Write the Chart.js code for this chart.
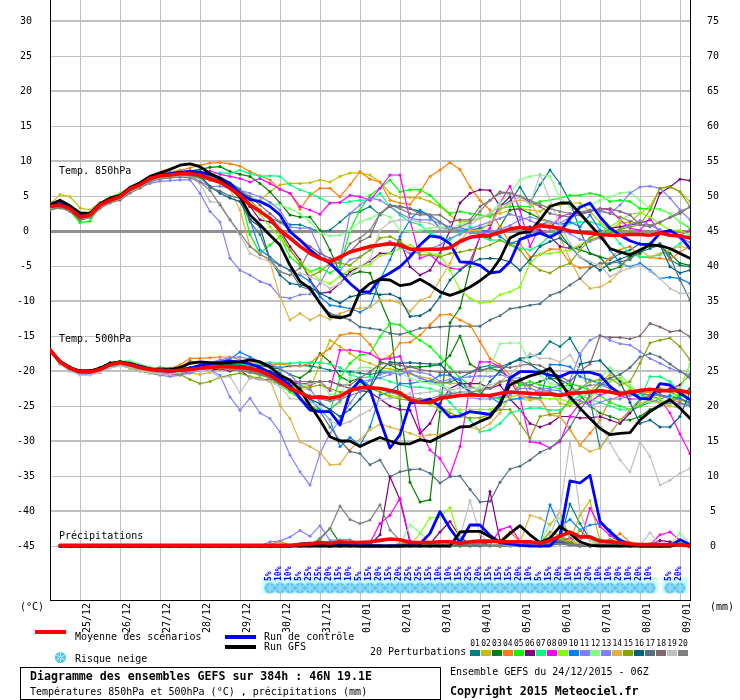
<!DOCTYPE html>
<html><head><meta charset="utf-8">
<style>html,body{margin:0;padding:0;background:#fff}canvas{display:block}</style>
<script src="https://cdn.jsdelivr.net/npm/chart.js@4"></script>
</head><body><canvas id="c" width="740" height="700"></canvas>
<script>
const dayLabels=["25/12","26/12","27/12","28/12","29/12","30/12","31/12","01/01","02/01","03/01","04/01","05/01","06/01","07/01","08/01","09/01"];
const dayIndex=[3,7,11,15,19,23,27,31,35,39,43,47,51,55,59,63];
const leftTicks=[30,25,20,15,10,5,0,-5,-10,-15,-20,-25,-30,-35,-40,-45];
const rightTicks=[75,70,65,60,55,50,45,40,35,30,25,20,15,10,5,0];
const steps=Array.from({length:65},(_,i)=>i);
const colors=["#008080","#c0c000","#008000","#ff8000","#00ff00","#800080","#00ff80","#ff00ff","#80ff00","#0080ff","#8080ff","#80ff80","#8080ff","#e0b040","#80a800","#006080","#507080","#806870","#c0c0c0","#808080"];
const snowIndex=[22,23,24,25,26,27,28,29,30,31,32,33,34,35,36,37,38,39,40,41,42,43,44,45,46,47,48,49,50,51,52,53,54,55,56,57,58,59,60,62,63];
const snowPct=[5,10,10,5,25,25,20,15,10,5,15,20,15,20,25,25,15,10,10,15,25,20,15,15,15,20,10,5,15,20,10,15,20,10,10,20,10,20,10,5,20];

const t850mean=[3.5,3.7,3.2,2,2.3,3.7,4.4,4.9,6,6.6,7.5,7.9,8,8.2,8.2,8,7.4,
7,6.1,5.1,3.7,2.8,1.8,.1,-1,-2.2,-3.2,-3.9,-4.4,-3.7,-3,-2.6,-2.2,
-2,-1.8,-2,-2.6,-2.6,-2.6,-2.6,-2.4,-1.5,-.9,-.7,-.6,-.2,.3,.5,.2,.8,.6,.4,0,-.2,-.3,-.5,-.6,-.6,-.5,-.5,-.6,-.3,-.6,-.7,-1];
const t850control=[3.6,3.9,3.4,2.2,2.5,3.8,4.5,5,6.1,6.8,7.6,8,8.2,8.4,8.5,8.4,8.1,
7.6,6.8,5.4,4.5,4.2,3.5,2.3,-.1,-1.3,-2.7,-3.8,-4.6,-6,-7.5,-8.7,-8.7,
-6.8,-6,-5.1,-3.7,-2,-.7,-.9,-1.8,-4.4,-4.5,-4.9,-6,-5.8,-4.4,-1.2,-.7,-.3,-.9,-.1,1.8,3.4,4,2,.4,-.6,-1.4,-1.9,-1.9,-.3,.1,-.8,-2.5];
const t850gfs=[3.8,4.4,3.6,2.6,2.5,3.9,4.7,5.1,6.2,6.9,7.8,8.3,8.8,9.4,9.6,9.2,8.2,
7.5,6.2,4.9,2.3,.9,-.6,-2,-4.9,-7.2,-8.2,-10.3,-12.2,-12.4,-12,-8.7,-7.5,
-6.9,-7,-7.8,-7.6,-6.9,-7.7,-8.7,-9.2,-8.7,-8,-7.1,-6,-4,-1,-.3,-.1,1.6,3.5,4,4,2.5,.9,-.7,-2.5,-3,-3.4,-2.7,-2,-2.1,-2.5,-3.2,-3.9];
const t850p01=[3.4,3.8,3.2,2.2,2.4,3.6,4.5,5,6,6.8,7.6,8,8.1,8.3,8.6,8.2,7.8,
7.5,6.9,6,3.5,3,1.8,1.3,.9,.9,.4,-.1,.1,1.3,2.5,2.8,3.5,
2.3,3.7,3.5,3.2,2.8,2.3,1.3,.4,.1,.1,.4,.9,3.5,4.2,6.3,4,6.6,8.7,6.8,4.2,.1,-3.2,-3.7,-4.1,-3.2,-2.7,-1.8,-2.2,-1.8,-4.1,-4.9,-5.1];
const t850p02=[3.9,5.2,4.9,3.3,3,4.1,4.7,5,5.7,6.4,7.2,7.6,7.7,7.7,7.7,7.6,7.3,
6.8,6.1,5.6,4.7,4.4,5.6,6.6,6.8,6.8,6.9,7.3,7,7.8,8.3,8.3,8,
7,5.4,4.8,4.8,4.7,4.2,3.5,2.3,1.3,1.4,1.8,2.3,2.5,3,3.2,3,2.8,3.7,3.7,4,4,2.8,1.3,.1,1.1,1.3,2.5,3.5,6.1,6.4,5.6,4.2];
const t850p03=[3.3,3.6,3,1.5,2,3.5,4.3,5,6,6.5,7.3,7.9,8,8.2,8.6,8.8,9.1,
9.2,8.5,8.1,7.8,6.8,5.6,4,2.3,2,2,.1,-2.7,-6,-6.3,-5.8,-6,
-9.9,-13.2,-25,-35.9,-38.7,-38.4,-25.8,-13.1,-11,-5.1,-.8,-1,.6,3,3.2,2.5,1.8,1.3,-.3,-2.2,-2.7,-3.2,-3.7,-5.6,-5.1,-3.7,-3.2,-1.8,-2.2,-3.2,-4.6,-4.9];
const t850p04=[3.6,3.9,3.3,2.2,2.5,3.8,4.6,5.1,6.2,6.9,7.7,8.2,8.4,8.7,9,9.4,9.7,
9.8,9.6,9.3,8.5,7.9,7.3,5.9,5.4,3.1,5.1,6.1,6.1,4.9,6.6,8.5,7.4,
7,4.4,4,3.8,5.6,7.8,8.7,9.8,8.8,6.3,4.4,3,.6,-1.8,-1.8,-3.7,-3.4,-2.6,-2.6,-4.6,-5.3,-5.1,-5,-3.9,-2.7,-2.2,-3.7,-3.8,-3.9,-4.1,-3,-2.2];
const t850p05=[3,3.4,2.8,1.2,1.4,3.6,4.8,5.2,6.3,6.6,7.5,8,8,8.2,8.4,8.2,7.6,
7.2,6.2,5.2,-.5,-3.2,-2,-.8,-3.7,-4.9,-5.8,-5.3,-6,-5.1,.1,3,5.1,
6.1,7.3,5.6,5.9,5.9,5.1,3.7,2.5,2.8,2.5,2.3,2,3.2,3.5,3.5,3.5,4.2,4.4,4.7,5.1,5.1,5.4,5.1,4.2,4.4,4.2,3.2,3.2,3.1,2.5,1.3,.4];
const t850p06=[3.5,3.8,3.2,2,2.3,3.6,4.3,4.8,5.9,6.5,7.4,7.9,7.9,8.1,8.3,8,7.8,
7.5,6.6,5.4,3.5,1.6,1.3,.1,-2.2,-4.1,-7,-8.9,-8.7,-7.5,-5.8,-5.1,-4.3,
-3.2,-3.2,-1.3,-5.1,-6.3,-5.6,-3.2,.1,4,5.4,5.9,5.8,3.5,4.9,.6,.6,.1,-.8,-2.2,-2.5,-2.2,-1,-.1,.4,.6,.9,1.1,1.6,5.4,6.3,7.4,7.2];
const t850p07=[3.4,3.8,3.2,1.8,2.2,3.8,4.7,5,6.1,6.8,7.6,8.1,8,8.4,8.4,8.1,8.2,
8.3,8.2,8.7,8.2,7.8,7.9,7.8,6.6,5.9,5.4,4.7,4,4,4.2,4.4,4.4,
5.4,3.5,2.3,1.3,.9,-.3,-.8,-1.3,-.3,.6,-.8,-1.3,-1.3,-1.8,-2.5,-2.7,-2,-.6,.1,1.1,1.3,1.3,.9,-.1,-1.8,-3.2,-3.7,-3.7,-3.4,-2.7,-1.8,-.6];
const t850p08=[3.5,3.9,3.3,2,2.4,3.7,4.5,5,6,6.7,7.5,8,8.1,8.3,8.3,8.2,8.6,
8.1,7.8,7.5,7,7.5,6.8,6,5.4,3.5,3,2.4,4,4.1,5.1,4.9,4.4,
6.1,8,8,1.6,-3.9,-3.4,-4.6,-5.3,-5.5,-4.4,-.8,.4,4,6.4,3,-2.2,.6,.4,2,2.5,2.5,2.8,3.2,3,1.6,.4,.1,1.8,-.3,-.1,-.6,.1];
const t850p09=[3.2,3.5,3.1,1.9,2.1,3.9,4.9,5.4,6.3,6.9,7.5,7.7,7.8,8,8.1,7.9,7.5,
7,6.3,5.2,3.9,2.4,.6,-1,-2.7,-4.4,-5.8,-7,-7.5,-6.5,-5.5,-5,-4.8,
-3.5,-3.2,-2.5,-2,-2.8,-3.2,-3.4,-5.6,-8.4,-9.6,-10.3,-10.1,-9.1,-8.7,-8,-4.6,-3.3,-3.2,-3,-2.7,-2,-1.1,-.3,.6,1.5,2.4,2.6,2,1,.1,.1,-.6];
const t850p10=[3.6,3.9,3.2,2.1,2.4,3.7,4.4,4.9,5.9,6.7,7.6,8,8.2,8.3,8.5,8.1,7.7,
7.2,6.5,5.6,1.6,-2.7,-3.7,-4.9,-5.6,-6.3,-7.2,-9.4,-10.6,-10.8,-11.1,-11.6,-10.8,
-7,-4.1,-.8,1.6,3,2,.4,.4,.4,.1,.1,-.1,-.8,-1.8,-1.3,-.3,.9,1.3,.9,1.3,.6,2.3,.1,-2.7,-4.6,-5.1,-4.6,-5.6,-6.8,-6.6,-6.8,-7.5];
const t850p11=[3.3,3.5,3,1.9,2.2,3.4,4.1,4.6,5.6,6.2,6.8,7.1,7.2,7.3,7.3,5.4,2.8,
1.3,-3.9,-5.6,-6.3,-7.2,-7.7,-9.4,-9.6,-9.1,-9,-7.5,-4.9,-5.6,-4.1,-3.7,-2.7,
-2,-1.5,-2.3,-3.2,-3,-2.5,-2,-1,-.5,.3,.8,1.3,1.8,2.4,2,1.5,.9,.5,.2,-.4,-1.2,-1.5,-1,-.3,.3,.9,1.5,.8,.2,-.5,-1,-1.6];
const t850p12=[3.7,4,3.5,2.4,2.7,3.9,4.8,5,6.2,6.9,7.8,8.2,8.2,8.5,8.5,8.3,7.9,
7.4,6.6,5.8,5,4.2,3.9,3.7,3.2,2.5,1.3,-.3,-.7,-.6,.1,1.3,1.8,
2.5,2,.1,-.1,.1,.4,.6,.4,.9,1.3,2,2.5,4,5.4,7.3,7.8,8,7.8,4.7,3.5,3.5,3.7,4.4,4.9,5.4,5.6,4.4,3.2,3,2.5,1.3,.6];
const t850p13=[3.6,3.7,3.1,2.1,2.4,3.5,4.2,4.7,5.8,6.4,7.2,7.6,7.6,7.9,7.9,7.1,6.3,
6.4,6.1,5.8,5.4,4.9,4.1,3,.6,.4,.4,-2.7,-4.9,-4.4,2.5,3.7,4.7,
4.4,3.5,2.5,1.8,1.6,1.6,1.1,.6,.1,-.3,-.4,-.2,.2,.8,1.6,2,1.6,1.3,1.1,2,2.5,3,2.8,2.5,3.7,5.4,6.3,6.4,6.1,4.7,3,1.6];
const t850p14=[3.4,3.7,3.1,1.8,2.1,3.5,4.4,4.9,6,6.6,7.6,8.1,8,8.3,8.2,7.8,7.3,
6.9,6,3,-2.2,-3.2,-4.4,-9.4,-12.7,-11.8,-12.7,-12,-12.6,-11.8,-11.3,-11,-10.9,
-9.9,-9.9,-10.3,-11.5,-9.9,-9.4,-7,-4.6,-1.3,.1,.1,1.1,3,4,4.4,4.2,1.8,1.1,-.8,-4.1,-6.8,-8.2,-8,-7.2,-5.8,-3.2,-2.7,-3.7,-3.2,-2.7,-2.2,-2.5];
const t850p15=[3.1,3.4,2.9,1.7,2,3.4,4.2,4.6,5.6,6.3,7.1,7.6,7.6,7.8,7.9,7.6,7.3,
6.9,6.3,5.4,4.4,3,1.6,-.3,-2.7,-4.6,-6.5,-5.8,-4.6,-4.6,-4.9,-3.7,-2.7,
-1,-.8,-1.5,-2.5,-3.4,-3.4,-3.7,-3.2,-3,-2.7,-2.5,-2,-1.3,-2,-2.7,-4.6,-5.6,-6,-5.1,-4.6,-2.7,-1.3,-.8,-.3,.2,.6,.9,3,6.1,6.3,5.6,3.5];
const t850p16=[3.5,3.8,3.2,1.9,2.3,3.6,4.4,4.8,5.9,6.6,7.3,7.9,8,8.1,8.2,7.9,6.4,
5.4,4.7,4.2,1.6,.6,-4.1,-6.3,-7.5,-7.7,-8,-8.9,-9.6,-10.3,-9.4,-9.1,-8.9,
-9.1,-9,-9.6,-12.2,-12.1,-11.3,-9.4,-7,-5.6,-4.6,-4,-3.9,-4,-4.4,-5.6,-4.1,-2.2,-1.5,-1,-2.2,-3.7,-4.6,-5.6,-4.6,-4,-3.5,-3,-2.5,-2,-5.1,-6,-5.6];
const t850p17=[3.4,3.6,3,1.7,2.1,3.5,4.3,4.7,5.8,6.5,7.3,7.8,7.9,8.1,8,7.7,6.2,
5.7,5,4.7,1.3,-.5,-4.1,-4.9,-5.6,-7.9,-8.4,-10.3,-11.8,-12.2,-12.7,-13.7,-13.9,
-14.1,-14.6,-14.8,-14.4,-13.9,-13.8,-13.7,-13.6,-13.6,-13.6,-13.6,-12.7,-12.1,-11.1,-10.9,-10.6,-10.4,-9.2,-8.7,-7.7,-6.8,-5.3,-4.6,-4.6,-4.4,-4.1,-2.7,-2,-2,-3.7,-7,-9.9];
const t850p18=[3.6,4,3.4,2.2,2.6,3.9,4.6,5.1,6.2,6.8,7.6,8.1,8.3,8.4,8.4,8.2,7.8,
7.4,6.8,5.8,4.9,3.7,2.5,1.3,.1,-1.3,-2.2,-3.2,-3.9,-4.1,-3,-1.5,-.8,
2.5,3.5,3.5,3.2,2.5,2.3,2.3,1.3,1.6,1.6,3.5,4.4,5.6,5.4,4.9,4.2,3.5,2.5,2.2,2,2.3,2.8,3.2,3.2,2.8,2.3,.9,.6,1.3,1.9,2.5,3.5];
const t850p19=[3.3,3.5,3,2,2.3,3.3,4,4.5,5.5,6.2,7,7.5,7.6,7.8,7.7,6.8,4.2,
4,1.6,-.6,-3.2,-3.9,-4.4,-5.8,-6.3,-6,-6.5,-7.2,-8.2,-7.5,-6.3,-5.1,-4.1,
.1,1.3,1.6,1.6,1.3,1.1,.4,.1,.4,.9,1.8,2.5,3.5,4,4.9,3.7,8.1,4.4,.9,-1.8,-3.7,-4.4,-4.9,-6.5,-5.8,-5.3,-4.9,-5.8,-6.8,-8.2,-8.9,-8.9];
const t850p20=[3,3.3,2.8,1.6,1.9,3.2,4,4.4,5.4,6.1,7,7.4,7.6,7.7,7.6,7,5.8,
3.7,1.6,-.3,-2.2,-3.4,-4,-5.8,-6.3,-5.3,-2.7,-3.7,-4.6,-4.1,-1.8,-1,.1,
2.5,3.7,3.2,2.5,2.3,2.3,1.3,.1,.6,1.2,2.8,4.4,5.4,5.4,5,4.4,3.8,3.2,2.8,2.5,2.7,3,3,2.5,2,1.4,1,.8,1.2,2,2.8,3.4];

const t500mean=[-17,-18.7,-19.6,-20.1,-20.1,-19.8,-19.1,-18.8,-19.1,-19.5,-19.8,-19.9,-20,-19.9,-19.8,-19.6,-19.5,
-19.4,-19.4,-19.5,-19.6,-20,-20.6,-21.5,-22.5,-23.1,-23.8,-23.7,-23.9,-23.6,-22.8,-22.4,-22.4,
-22.5,-22.8,-23.1,-24.1,-24.5,-24.5,-23.9,-23.7,-23.5,-23.4,-23.5,-23.5,-23.2,-23,-23.1,-23.2,-23.3,-23.3,-23.5,-23.2,-23.1,-23,-22.8,-23,-23.3,-23,-22.8,-22.6,-22.8,-22.8,-22.8,-23.1];
const t500control=[-17,-18.7,-19.6,-20,-20,-19.7,-19,-18.7,-18.9,-19.3,-19.7,-19.9,-20,-19.9,-19.6,-19.2,-18.9,
-18.8,-18.6,-18.7,-19,-19.5,-20.2,-21,-22,-23.9,-25.6,-25.8,-25.8,-27.7,-23,-21.3,-22.7,
-27,-31,-29.1,-24.6,-24.4,-24,-25.1,-26.6,-26.4,-25.8,-26,-26.2,-24.9,-21,-20.1,-20.1,-20.2,-20.6,-20.8,-20.2,-20.2,-20.2,-20.6,-22.2,-23.3,-23,-23.9,-24,-21.8,-22,-23.2,-24.1];
const t500gfs=[-17,-18.6,-19.5,-20,-20,-19.6,-18.9,-18.7,-19,-19.4,-19.7,-19.8,-19.8,-19.5,-18.9,-18.7,-18.8,
-18.9,-18.8,-18.7,-18.4,-18.7,-19.4,-20.6,-21.3,-22.7,-24.9,-27,-29.4,-30,-30,-30.8,-30.1,
-29.5,-30,-30.4,-30.4,-29.8,-30.1,-29.4,-28.7,-28,-27.9,-27.2,-26.6,-24.6,-22,-21.3,-20.7,-20.3,-19.6,-21.5,-23.7,-25.3,-26.8,-28.2,-29.1,-28.9,-28.8,-27,-25.8,-24.9,-24.1,-25.3,-26.8];
const t500p01=[-17,-18.8,-19.8,-20.1,-20,-19.6,-18.9,-18.6,-18.8,-19.1,-19.5,-19.5,-19.7,-19.6,-19.6,-19.2,-19,
-18.9,-19,-19,-19.1,-19.1,-19.3,-19.5,-19.3,-19.2,-19.3,-19.5,-19.9,-20,-20.1,-20.3,-20.5,
-20.2,-20.1,-20,-20.4,-21,-21.5,-21.7,-21.6,-21,-20.2,-19.5,-19.2,-19.4,-18.9,-18.2,-18,-17.5,-15.8,-16.5,-15.3,-17.8,-24.1,-31,-29,-27,-25.8,-25,-24.5,-24,-23.5,-24,-24.5];
const t500p02=[-17.1,-18.9,-19.8,-20.4,-20.4,-20,-19.2,-19,-19.4,-19.8,-20,-20.3,-20.3,-20.2,-20.3,-20.5,-20.2,
-19.5,-19.7,-19.9,-20,-20.3,-20.8,-21.8,-22.3,-22.5,-22.7,-18.9,-15.6,-16.5,-17.5,-18.4,-18.9,
-19.5,-19.7,-19.9,-20.4,-20.8,-21.1,-21.7,-21.8,-21.7,-22.3,-22.6,-22.4,-21.7,-21.2,-21.7,-22.4,-23,-23,-24.6,-25,-24,-23,-21.5,-20.5,-21.5,-22.3,-23,-22.6,-22.8,-23,-23.5,-23.2];
const t500p03=[-17,-18.6,-19.4,-20,-19.9,-19.6,-19,-18.9,-19.2,-19.4,-19.5,-19.6,-19.6,-19.4,-19.5,-19.4,-19.3,
-19.2,-19,-19.2,-19.3,-19.2,-19.5,-19.7,-20.5,-21,-20,-17.5,-18.7,-20.8,-21.5,-21,-22.2,
-18.7,-19.1,-19.9,-19.4,-19.4,-19.3,-19.1,-17.8,-15,-19,-19.9,-19.6,-20,-21,-22,-22,-21.5,-21,-21.2,-22,-23.5,-25,-26,-26.5,-27,-27,-26.5,-25.5,-25,-24.5,-23.5,-22.5];
const t500p04=[-17,-18.7,-19.6,-20,-20,-19.8,-19.1,-18.9,-19.1,-19.5,-19.7,-19.9,-19.7,-19.1,-18.2,-18.2,-18.1,
-18,-18,-18.4,-18.8,-19,-19.2,-19,-19.2,-19.3,-18.9,-17.7,-16.8,-14.9,-14.6,-14.7,-16.2,
-18.4,-17.9,-16,-15.9,-14.9,-13.4,-12,-11.9,-12.7,-13.4,-15.8,-18.2,-19.1,-20.6,-23.4,-23.9,-23.9,-26.3,-26.5,-28.4,-30.6,-28.9,-27,-24.1,-23.6,-23.4,-23.2,-23,-23.4,-23.8,-24.2,-24.4];
const t500p05=[-17.1,-18.9,-19.9,-20.3,-20.4,-19.9,-19.2,-18.7,-18.7,-19.3,-19.6,-19.9,-20.1,-20.3,-20.1,-20,-19.6,
-19.6,-19.8,-19.9,-20.2,-20.6,-21,-22,-23,-24,-25,-25.5,-25.8,-21,-18.9,-17.7,-17.5,
-15.1,-13.2,-13.4,-14.6,-15.6,-16.5,-18,-19.5,-21,-22,-23,-23.7,-24,-23.6,-22,-21.5,-22,-22.3,-22.5,-21.8,-22.2,-22.8,-23.5,-24.5,-25,-25.5,-25,-24,-22.5,-23,-23.8,-25];
const t500p06=[-17,-18.6,-19.5,-20,-20.1,-19.7,-19.2,-19,-19.3,-19.7,-20,-20.1,-20.2,-20.1,-20.1,-19.6,-19.9,
-19.7,-20,-19.8,-21,-21.2,-21.3,-21,-21.5,-21.9,-21.7,-21.5,-21.5,-22,-22.5,-22.8,-23,
-24,-25,-25.5,-25.6,-28.9,-27.5,-24.6,-22.5,-21.8,-21.8,-21.8,-22.5,-22,-24,-25.5,-27.5,-28,-27.5,-26.5,-26.5,-26.7,-26.7,-26.5,-27,-27.5,-26,-24.1,-23.5,-23,-22.5,-22,-20.5];
const t500p07=[-17.2,-18.9,-19.7,-20.2,-20.1,-19.7,-19,-18.8,-19,-19.2,-19.6,-19.8,-20,-19.8,-19.7,-19.3,-19.2,
-19,-19.1,-19,-19.2,-18.9,-18.8,-18.9,-18.9,-18.8,-18.8,-18.8,-19,-19.5,-20.5,-21,-20.8,
-21,-21.5,-22,-22.3,-22.3,-22.5,-23,-24.5,-26,-27,-28.7,-28.4,-27.5,-26,-25.6,-25.3,-25.3,-25.6,-25.6,-24.5,-23.5,-24,-24.5,-25,-25.5,-25.6,-24,-20.8,-20.8,-21.5,-23,-24];
const t500p08=[-17.1,-18.7,-19.6,-20.3,-20.3,-19.8,-19.1,-18.9,-19,-19.5,-20,-20.3,-20.6,-20.4,-20,-19.6,-19.2,
-18.5,-18.5,-18.7,-19,-19.4,-20.2,-20.7,-21.3,-21.9,-22,-21.5,-22.8,-17,-17,-17.2,-17.5,
-18.4,-18.2,-17.9,-21.3,-28.4,-31.3,-32.5,-34.9,-30.8,-22.2,-18.7,-18.7,-19.4,-21.3,-23.7,-30.1,-30.3,-31,-30.1,-26.5,-24.6,-24.4,-23.4,-23,-23.5,-24,-24,-23.5,-24,-26,-29,-31.8];
const t500p09=[-17,-18.8,-19.8,-20.2,-20.3,-19.8,-19,-18.7,-18.6,-19.2,-19.5,-19.7,-19.9,-20,-20.1,-19.9,-19.7,
-19.5,-19.4,-19.7,-20,-20.3,-20.8,-21.5,-22.5,-24,-25.3,-25.7,-25.5,-24.5,-22.5,-22,-22.5,
-23,-23.5,-23.7,-24,-24.5,-24.8,-25.5,-25.5,-25.5,-25.5,-25.5,-25.5,-25,-24,-24,-24.2,-23.8,-24,-24,-24.5,-24.5,-24,-22,-21.5,-21,-22.5,-23.5,-23.8,-24,-25,-22.5,-19];
const t500p10=[-17,-18.6,-19.6,-20.1,-20,-19.6,-18.9,-18.8,-19.1,-19.5,-19.9,-20.1,-20.2,-20,-19.8,-19.5,-19.1,
-18.6,-18.3,-17.3,-18,-18.7,-19.5,-20.3,-21.5,-22.7,-24,-25.5,-27,-30.8,-29.5,-30.6,-28,
-23.4,-23,-21.8,-21.8,-21.5,-21.5,-20.6,-20.6,-21.3,-23,-23.4,-23.7,-24.6,-24.1,-23.9,-23.7,-23.9,-19.1,-19.1,-19.4,-20.8,-21.3,-21.8,-22.2,-23,-23.2,-23.4,-23.4,-23.4,-23.7,-23.9,-24.6];
const t500p11=[-17.2,-19,-20,-20.5,-20.5,-20.2,-19.5,-19.2,-19.5,-20,-20.3,-20.6,-20.8,-20.6,-20.3,-19.9,-19.9,
-20.6,-23.7,-25.6,-23.9,-26,-26.8,-28.7,-32,-34.4,-36.3,-31.8,-28.9,-27,-24.6,-22.7,-21.3,
-21,-20.5,-20,-20.2,-21,-21.5,-22,-23,-23.5,-23.8,-24,-24,-23.7,-23.4,-22.5,-22.5,-23,-22.7,-22.8,-24,-24.2,-25,-24.5,-24,-24,-23.5,-23.5,-24,-24.5,-24.5,-24.7,-25];
const t500p12=[-17.1,-18.8,-19.7,-20,-20,-19.5,-18.9,-18.6,-18.5,-19,-19.4,-19.7,-19.9,-19.9,-19.6,-19.4,-19.3,
-19.2,-19.4,-19.5,-19.6,-20,-21,-21.4,-21.8,-22,-21.8,-21.5,-23.4,-23.4,-21,-19.5,-19.5,
-19.9,-20,-20.3,-21,-21.5,-21.8,-22,-22.5,-23.4,-23.7,-22,-19.5,-16.1,-16,-16,-18.9,-20.6,-21.8,-22,-22.5,-23,-23,-21,-19.5,-20.5,-22,-23.5,-24.5,-24.5,-24,-22.5,-20];
const t500p13=[-17,-18.9,-19.9,-20.4,-20.3,-20,-19.4,-19.1,-19.3,-19.6,-19.9,-20.2,-20.3,-20.1,-19.7,-19.2,-18.8,
-18.4,-18.1,-18,-18.3,-18.7,-19,-19.6,-20.5,-22,-22.6,-24.5,-25.5,-24.2,-22.6,-21.5,-21.3,
-20.5,-20.2,-20.5,-20,-20.2,-20.5,-21.5,-21.2,-21,-20.8,-20.7,-20.8,-20.5,-21,-21,-23.5,-22.5,-22.5,-22,-21.3,-17.5,-15.6,-14.9,-15.6,-16.1,-16.3,-17.2,-18.2,-18.9,-19.6,-20.1,-20.6];
const t500p14=[-17.1,-18.7,-19.6,-20.2,-20.2,-19.8,-19.2,-19,-19.3,-19.7,-20,-20.2,-20.3,-20.1,-19.9,-19.7,-19.6,
-19.6,-19.8,-19.9,-20.1,-20.3,-21.3,-24.9,-26.8,-30.1,-30.8,-31.6,-33.4,-33.3,-31.3,-29.8,-28.4,
-27.6,-28,-28.4,-28.9,-29.4,-29.1,-29.1,-28.7,-28,-28,-28.4,-27.5,-26,-23.7,-23.4,-24.1,-24.1,-26.3,-26.5,-28.4,-30.6,-31.5,-31,-28.9,-27,-25.6,-24.6,-24.1,-24.6,-25,-25.3,-26.5];
const t500p15=[-17,-18.6,-19.5,-20,-20.2,-19.7,-19.3,-19.2,-19.6,-20,-20.3,-20.4,-20.3,-20.5,-21.2,-21.8,-21.5,
-20.9,-20.6,-20.3,-20.8,-21,-21.5,-21.8,-22,-22.3,-22.3,-22,-22.5,-23,-23,-22.5,-22.5,
-23,-23.7,-24,-24.2,-24,-24.5,-25,-26,-26.5,-26.7,-26.7,-26.2,-25.5,-25.5,-27.5,-29.6,-26.5,-26.2,-26,-24,-22.5,-21.5,-21.2,-21,-22,-21.5,-18.9,-16,-15.6,-15.3,-16.5,-18.4];
const t500p16=[-17,-18.7,-19.7,-20.1,-20,-19.5,-18.8,-18.7,-19,-19.4,-19.7,-19.9,-20,-19.9,-19.8,-19.5,-19.2,
-19.1,-19.1,-19.2,-19.5,-19.7,-20,-20.5,-21.5,-22.5,-24,-24.7,-25.5,-26.5,-25.5,-24,-22.5,
-20,-18.7,-18.9,-18.8,-18.9,-19,-19,-20.5,-22,-23,-23.5,-21.5,-20,-18.9,-18.4,-19,-20,-21,-22,-23,-19,-18.7,-18.5,-20,-21.5,-24.5,-27.5,-27,-28,-28,-26.5,-23];
const t500p17=[-17.1,-18.8,-19.8,-20.3,-20.2,-19.7,-19.1,-18.9,-19.2,-19.6,-19.9,-20.1,-20.2,-20,-19.9,-19.7,-19.4,
-19.4,-19.5,-19.7,-19.9,-20.1,-21,-21.8,-22.7,-23.7,-25.1,-25.8,-28,-29.9,-31.5,-31.8,-33.4,
-32.7,-35.1,-34.4,-34.1,-34,-34.6,-36,-35.1,-35,-36.9,-38.7,-38.6,-35.9,-34,-33.6,-32.7,-31.6,-31,-29.9,-28,-25.6,-23.5,-22,-21,-20.5,-19.5,-18,-17.5,-18,-19,-20,-21];
const t500p18=[-16.9,-18.6,-19.5,-20,-20,-19.6,-19.1,-18.8,-19,-19.5,-19.8,-19.9,-20,-19.5,-18.6,-18.8,-18.9,
-19,-19.3,-19.5,-20,-20.4,-20.8,-21,-21.4,-21.5,-21.5,-21.5,-21.5,-22,-22,-21,-20.1,
-19,-18.9,-19.2,-19.4,-19.8,-20,-20.2,-20.2,-20.2,-20.2,-20,-19.5,-19.4,-19.5,-19.2,-19,-19.2,-20,-20.8,-21.5,-20,-19,-15,-15.2,-15.2,-15.4,-15,-13.2,-13.7,-14.4,-14.2,-15.1];
const t500p19=[-17.2,-19,-20,-20.6,-20.6,-20.2,-19.6,-19.3,-19.5,-20,-20.2,-20.4,-20.5,-20.2,-20,-19.9,-20,
-21,-20.8,-23.1,-21,-21.2,-21.5,-22.2,-23.9,-24.1,-24.4,-25.1,-27.2,-27.7,-27.2,-26.3,-25.6,
-24.1,-23.9,-23.7,-23.2,-23.2,-23,-22.8,-22.7,-22.5,-22.5,-22.5,-22,-21.5,-20.5,-19,-17.5,-18.2,-18.2,-18.7,-17.7,-20,-23,-27.5,-30.3,-32.7,-34.4,-30.1,-32.2,-36.3,-35.6,-34.6,-33.9];
const t500p20=[-17,-18.8,-19.7,-20.2,-20.1,-19.6,-19,-18.7,-18.9,-19.4,-19.7,-19.9,-19.9,-19.8,-19.7,-19.6,-19.5,
-19.5,-19.7,-19.9,-20.2,-20.5,-21,-21.6,-22.3,-23,-23.5,-24,-24.3,-24,-23.5,-23,-22.5,
-22.5,-23,-23.5,-23.7,-24,-24,-23.5,-23.3,-23,-23,-22.8,-22.5,-21.5,-21.3,-21.5,-22,-22.5,-23,-23.3,-23,-22.5,-22,-22,-22.5,-23,-22.8,-23,-23.5,-23.5,-24,-24.5,-25];

const rrmean=[null,.1,.1,.1,.1,.1,.1,.1,.1,.1,.1,.1,.1,.1,.1,.1,.1,.1,.1,.1,
.1,.1,.1,.1,.1,.2,.3,.5,.4,.6,.5,.5,.6,.8,1,.9,.5,.5,.5,.6,.6,.4,
.6,.7,.7,.6,.6,.6,.6,.4,.8,1.4,2,1.3,1.3,.7,.6,.5,.3,.2,.2,.2,.2,.2,0];
const rrcontrol=[null,0,0,0,0,0,0,0,0,0,0,0,0,0,0,0,0,0,0,0,
0,0,0,0,0,.3,.4,.2,0,.2,.1,0,0,0,0,0,.1,.3,1.8,4.9,2.5,.5,
3,3,1.5,.5,.3,.1,0,0,0,1.5,9.3,9,10.1,3.5,2,.8,.3,0,0,0,0,.9,.2];
const rrgfs=[null,0,0,0,0,0,0,0,0,0,0,0,0,0,0,0,0,0,0,0,
0,0,0,0,0,0,0,0,0,0,0,0,0,0,0,0,0,0,0,0,0,2,
2.1,2.1,1.3,.5,1.8,2.9,1.6,.5,1.1,2.8,1.8,.6,.1,0,0,0,0,0,0,0,0,.2,0];
const rrp01=[null,0,0,0,0,0,0,0,0,0,0,0,0,0,0,0,0,0,0,0,
0,0,0,0,0,0,0,0,0,0,0,0,0,0,0,0,0,0,0,0,0,0,
0,0,.2,0,0,.3,.2,0,.3,.8,6,3.2,1,.5,.2,.5,0,0,.2,0,0,.2,0];
const rrp02=[null,0,0,0,0,0,0,0,0,0,0,0,0,0,0,0,0,0,0,0,
0,0,0,0,0,0,0,0,0,0,0,0,0,0,0,0,0,0,0,0,0,0,
0,.2,0,0,.3,0,0,0,.4,1.5,.8,4.4,6.5,.7,.3,.2,0,0,0,0,.2,0,0];
const rrp03=[null,0,0,0,0,0,0,0,0,0,0,0,0,0,0,0,0,0,0,0,
0,0,0,0,0,0,0,1,2.5,.4,0,0,.1,0,0,0,0,.2,0,0,.2,.3,
.4,.5,.2,0,.3,.5,.2,0,.3,.4,.6,.2,0,.4,.8,.3,0,.2,.1,0,.1,.3,0];
const rrp04=[null,0,0,0,0,0,0,0,0,0,0,0,0,0,0,0,0,0,0,0,
0,0,.2,.7,.1,0,0,0,0,0,0,0,.2,0,0,.4,.3,.5,.2,0,0,.3,
.4,.7,.5,.8,2,.6,.3,0,.5,1.1,.8,.2,.3,.6,.6,1.8,.5,0,.1,0,.2,.5,0];
const rrp05=[null,0,0,0,0,0,0,0,0,0,0,0,0,0,0,0,0,0,0,0,
0,0,0,0,0,0,.2,.4,.1,0,0,0,.3,.1,0,0,0,.3,.1,.1,.3,.2,
.1,.2,.1,.1,.1,.1,.3,0,.4,1.3,.2,.1,0,.5,1,.3,0,.2,.2,0,.1,.4,0];
const rrp06=[null,0,0,0,0,0,0,0,0,0,0,0,0,0,0,0,0,0,0,0,
0,0,0,0,0,0,0,0,0,0,.1,.1,.2,1.6,9.9,6.6,.5,.2,.3,2,3.5,1.3,
.2,.7,7.8,.8,.3,.2,.1,0,.2,.4,.2,0,0,.2,.3,.1,0,.2,.1,.8,.6,.4,0];
const rrp07=[null,0,0,0,0,0,0,0,0,0,0,0,0,0,0,0,0,0,0,0,
0,0,0,0,0,0,0,0,0,0,0,0,0,0,0,0,.2,.3,.1,.2,.1,.2,
.2,.3,.1,.2,.5,.1,.2,0,.3,.7,.4,.2,.1,1,.5,.3,.1,.1,.1,0,.2,.2,0];
const rrp08=[null,0,0,0,0,0,0,0,0,0,0,0,0,0,0,0,0,0,0,0,
0,0,0,0,0,0,0,0,0,0,0,0,.5,3.2,4.4,6.8,.8,.2,0,.1,.2,.1,
.2,.3,.2,2.3,2.8,.7,.2,.1,.3,.6,1.2,.5,5.4,2.8,1.5,.6,.2,.1,.2,1.6,2,.8,.1];
const rrp09=[null,0,0,0,0,0,0,0,0,0,0,0,0,0,0,0,0,0,0,0,
0,0,0,0,0,0,0,0,0,0,0,0,0,0,0,0,.1,1.8,4,4.1,5.5,.8,
.2,.1,.2,.1,.2,.3,.1,0,.2,.9,.3,.1,.1,.5,.2,.1,0,.2,.4,.1,.2,.5,.1];
const rrp10=[null,0,0,0,0,0,0,0,0,0,0,0,0,0,0,0,0,0,0,0,
0,0,0,0,0,0,0,0,0,0,.2,.1,0,.1,0,0,0,.2,.3,.2,.1,.1,
.1,.3,.2,.1,.2,.1,.1,.2,5.9,2.8,3.8,2.3,3,3.2,2.3,.9,.3,.1,0,0,.1,.2,0];
const rrp11=[null,0,0,0,0,0,0,0,0,0,0,0,0,0,0,0,0,0,0,0,
0,0,.6,.7,1.3,2.2,1.4,2.9,.8,.9,.9,.4,0,0,0,0,0,0,0,0,.1,.2,
.1,.2,.1,0,.1,.2,.1,0,.3,.5,.2,.1,0,.4,.2,.1,0,0,.1,0,.1,.2,0];
const rrp12=[null,0,0,0,0,0,0,0,0,0,0,0,0,0,0,0,0,0,0,0,
0,0,0,0,0,0,0,0,0,0,0,0,0,0,0,.2,3,2,.4,.2,.2,.1,
.1,.2,.1,.1,.3,.1,.1,.3,3.2,4,1.5,.3,.2,.8,.5,.8,.2,.1,.1,0,.1,1.9,.2];
const rrp13=[null,0,0,0,0,0,0,0,0,0,0,0,0,0,0,0,0,0,0,0,
0,0,0,0,0,.1,.2,.1,0,0,0,0,0,0,.1,.2,.1,0,.2,.2,.1,.1,
.1,.1,.2,.1,0,.1,.2,0,.2,.4,.2,.1,0,.3,.2,.1,0,0,.1,0,.1,.2,0];
const rrp14=[null,0,0,0,0,0,0,0,0,0,0,0,0,0,0,0,0,0,0,0,
0,0,0,0,0,0,0,0,0,0,0,0,0,0,0,0,0,0,.2,.3,.1,.2,
.3,.8,.6,.4,.3,.5,4.4,4,3,5,.8,.2,.2,.3,.2,.1,0,.1,.1,0,.1,.2,0];
const rrp15=[null,0,0,0,0,0,0,0,0,0,0,0,0,0,0,0,0,0,0,0,
0,0,0,0,0,0,0,0,0,0,0,0,0,0,0,.1,.3,.2,.1,.1,.2,.1,
.1,.2,.1,.1,.2,.1,.1,.4,2,1.5,.4,2.2,1,.3,.4,.3,.1,.1,.2,.1,.2,.3,0];
const rrp16=[null,0,0,0,0,0,0,0,0,0,0,0,0,0,0,0,0,0,0,0,
0,0,0,0,0,0,0,0,0,0,0,0,0,0,0,0,0,0,0,0,.1,.2,
.1,.1,.2,.1,.2,.1,.1,.2,.3,.6,.3,.1,.1,.2,.3,.1,0,0,.1,0,.1,.3,0];
const rrp17=[null,0,0,0,0,0,0,0,0,0,0,0,0,0,0,0,0,0,0,0,
0,0,0,0,0,0,0,0,0,0,0,0,0,0,0,0,0,0,0,0,0,0,
0,0,0,0,.1,0,.1,0,.1,.3,.1,0,0,.1,.1,0,0,0,0,0,0,.1,0];
const rrp18=[null,0,0,0,0,0,0,0,0,0,0,0,0,0,0,0,0,0,0,0,
0,0,0,0,0,0,0,0,0,0,0,0,0,0,0,0,0,.1,.1,.2,.3,.2,
.1,.2,.2,.1,.1,.1,.1,.2,.4,.8,.3,.1,0,.2,.2,.1,0,0,.1,.3,.2,.1,0];
const rrp19=[null,0,0,0,0,0,0,0,0,0,0,0,0,0,0,0,0,0,0,0,
0,0,0,0,0,0,0,0,0,0,0,0,0,0,0,0,0,.2,.1,.1,.2,1.3,
6.5,1.8,.2,.1,.1,.1,.1,.3,1.5,5,15,5,.8,.4,.2,.1,0,.1,1.9,.2,.2,.1,0];
const rrp20=[null,0,0,0,0,0,0,0,0,0,0,0,0,0,0,0,0,0,0,0,
0,0,0,0,0,0,.1,1.1,2.5,5.7,3.8,3.2,3.7,5.9,2.3,.8,.2,.1,.1,.1,.1,.4,
.3,.2,.1,.1,.2,.1,.1,.1,.4,.3,.2,.1,0,.2,.1,0,0,0,.1,0,.1,.1,0];

const perts850=[t850p01,t850p02,t850p03,t850p04,t850p05,t850p06,t850p07,t850p08,t850p09,t850p10,t850p11,t850p12,t850p13,t850p14,t850p15,t850p16,t850p17,t850p18,t850p19,t850p20];
const perts500=[t500p01,t500p02,t500p03,t500p04,t500p05,t500p06,t500p07,t500p08,t500p09,t500p10,t500p11,t500p12,t500p13,t500p14,t500p15,t500p16,t500p17,t500p18,t500p19,t500p20];
const pertsRR=[rrp01,rrp02,rrp03,rrp04,rrp05,rrp06,rrp07,rrp08,rrp09,rrp10,rrp11,rrp12,rrp13,rrp14,rrp15,rrp16,rrp17,rrp18,rrp19,rrp20];

const MONO='"DejaVu Sans Mono"';
function makeFlake(){
  const c=document.createElement('canvas');c.width=13;c.height=13;
  const g=c.getContext('2d');
  g.fillStyle='#55c4ee';g.beginPath();g.arc(6.5,6.5,5.6,0,Math.PI*2);g.fill();
  g.strokeStyle='#c8ecfa';g.lineWidth=1;
  for(let a=0;a<3;a++){const t=a*Math.PI/3+Math.PI/6;g.beginPath();g.moveTo(6.5-5*Math.cos(t),6.5-5*Math.sin(t));g.lineTo(6.5+5*Math.cos(t),6.5+5*Math.sin(t));g.stroke();}
  g.fillStyle='#2f9fe0';g.fillRect(6,6,1,1);
  return c;
}
const flake=makeFlake();
const snowLevel=-6, bandLevel=-5.57;

function lineSet(values,axis,color,width,radius){
  return {type:'line',yAxisID:axis,xAxisID:'x',
    data:values.map((v,i)=>({x:steps[i],y:v})),
    borderColor:color,backgroundColor:color,borderWidth:width,
    pointRadius:radius,pointHoverRadius:0,pointBorderWidth:0,tension:0,fill:false,spanGaps:false,
    borderJoinStyle:'round',borderCapStyle:'round'};
}
const ds=[];
ds.push({type:'line',yAxisID:'y2',xAxisID:'x',
  data:steps.filter(i=>i>=22&&i<=63).map(i=>({x:i,y:snowIndex.includes(i)?bandLevel:null})),
  borderColor:'#ccffff',borderWidth:16,pointRadius:0,tension:0,borderCapStyle:'square',spanGaps:false});
ds.push({type:'line',yAxisID:'y2',xAxisID:'x',showLine:false,
  data:snowIndex.map(i=>({x:i,y:snowLevel})),pointStyle:flake,pointRadius:6,pointHoverRadius:0});
perts850.forEach((v,k)=>ds.push(lineSet(v,'y',colors[k],1.2,1.5)));
perts500.forEach((v,k)=>ds.push(lineSet(v,'y',colors[k],1.2,1.5)));
pertsRR.forEach((v,k)=>ds.push(lineSet(v,'y2',colors[k],1.2,1.5)));
[[t850control,'y'],[t500control,'y'],[rrcontrol,'y2']].forEach(a=>ds.push(lineSet(a[0],a[1],'#0000ff',2.8,0)));
[[t850gfs,'y'],[t500gfs,'y'],[rrgfs,'y2']].forEach(a=>ds.push(lineSet(a[0],a[1],'#000000',2.8,0)));
[[t850mean,'y'],[t500mean,'y'],[rrmean,'y2']].forEach(a=>ds.push(lineSet(a[0],a[1],'#ff0000',3.6,0)));
ds.reverse(); // Chart.js paints the first dataset last

const decor={id:'decor',afterDraw(chart){
  const g=chart.ctx,xs=chart.scales.x;
  g.save();
  g.fillStyle='#000';g.textBaseline='middle';g.textAlign='left';
  const T=(s,x,y,f)=>{g.font=f||('10px '+MONO);g.fillText(s,x,y);};
  T('Temp. 850hPa',59,171);T('Temp. 500hPa',59,339);T('Précipitations',59,536);
  T('(°C)',20,607);T('(mm)',710,607);
  g.fillStyle='#0000ff';
  snowIndex.forEach((i,k)=>{g.save();g.translate(xs.getPixelForValue(i)-1,581);g.rotate(-Math.PI/2);
    g.font='bold 8px '+MONO;g.fillText(snowPct[k]+'%',0,0);g.restore();});
  g.fillStyle='#ff0000';g.fillRect(35,630,31,4);
  g.fillStyle='#0000ff';g.fillRect(225,635,31,4);
  g.fillStyle='#000000';g.fillRect(225,645,31,4);
  T('Moyenne des scénarios',75,637);T('Run de contrôle',264,637);T('Run GFS',264,647);
  g.drawImage(flake,54,651);T('Risque neige',75,659);
  T('20 Perturbations',370,652);
  colors.forEach((c,k)=>{const x=470+k*10.95;g.fillStyle=c;g.fillRect(Math.round(x),650,10,6);
    g.fillStyle='#000';g.textAlign='center';g.font='8px '+MONO;
    g.fillText(String(k+1).padStart(2,'0'),x+5,644);g.textAlign='left';});
  g.strokeStyle='#000';g.lineWidth=1;g.strokeRect(20.5,667.5,420,32);
  T('Diagramme des ensembles GEFS sur 384h : 46N 19.1E',30,677,'bold 11.6px '+MONO);
  T('Températures 850hPa et 500hPa (°C) , précipitations (mm)',30,692);
  T('Ensemble GEFS du 24/12/2015 - 06Z',450,672);
  T('Copyright 2015 Meteociel.fr',450,692,'bold 11.6px '+MONO);
  g.restore();
}};
function noPad(s){s.paddingTop=0;s.paddingBottom=0;s.paddingLeft=0;s.paddingRight=0;}

new Chart(document.getElementById('c'),{
  data:{datasets:ds},
  plugins:[decor],
  options:{responsive:false,animation:false,devicePixelRatio:1,events:[],
    layout:{padding:0,autoPadding:false},
    plugins:{legend:{display:false},tooltip:{enabled:false}},
    scales:{
      x:{type:'linear',min:0,max:64,
        afterBuildTicks(s){s.ticks=dayIndex.map(value=>({value}));},
        afterFit(s){s.height=100;noPad(s);},
        border:{display:true,color:'#000',width:1},
        grid:{color:'#c0c0c0',lineWidth:1,drawTicks:false},
        ticks:{autoSkip:false,minRotation:90,maxRotation:90,labelOffset:7,padding:3,color:'#000',
          font:{family:MONO,size:10},callback:v=>dayLabels[dayIndex.indexOf(v)]}},
      y:{type:'linear',position:'left',min:-52.7142857,max:33,
        afterBuildTicks(s){s.ticks=leftTicks.map(value=>({value}));},
        afterFit(s){s.width=50;noPad(s);},
        border:{display:true,color:'#000',width:1},
        grid:{drawTicks:false,
          color:c=>c.tick.value===0?'#909090':'#c0c0c0',
          lineWidth:c=>c.tick.value===0?3:(c.tick.value%10===0?2:1)},
        ticks:{crossAlign:'center',padding:15,color:'#000',font:{family:MONO,size:10},callback:v=>String(v)}},
      y2:{type:'linear',position:'right',min:-7.7142857,max:78,
        afterBuildTicks(s){s.ticks=rightTicks.map(value=>({value}));},
        afterFit(s){s.width=50;noPad(s);},
        border:{display:true,color:'#000',width:1},
        grid:{display:false,drawTicks:false},
        ticks:{crossAlign:'center',padding:17,color:'#000',font:{family:MONO,size:10},callback:v=>String(v)}}
    }
  }
});
</script></body></html>
